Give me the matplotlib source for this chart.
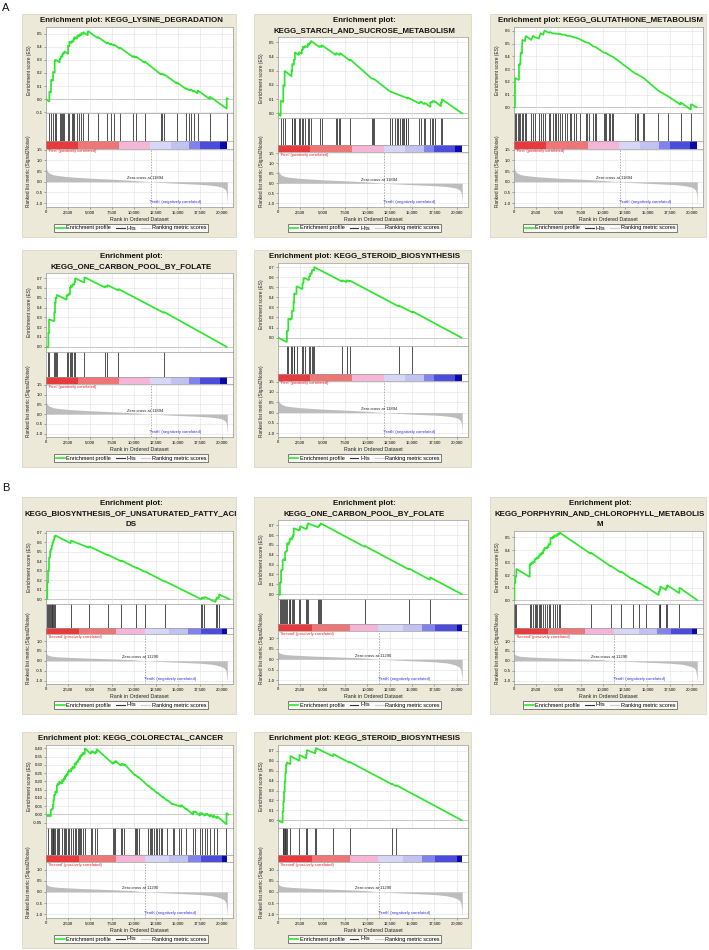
import matplotlib
matplotlib.use('Agg')
import matplotlib.pyplot as plt
from matplotlib.patches import Rectangle
from matplotlib.lines import Line2D
from matplotlib.ticker import FixedLocator, FuncFormatter

plt.rcParams['font.family'] = ['Liberation Sans', 'DejaVu Sans']

# ---------------- data ----------------
rank_ticks = [0, 2500, 5000, 7500, 10000, 12500, 15000, 17500, 20000]
rank_tick_labels = ["0", "2,500", "5,000", "7,500", "10,000", "12,500", "15,000", "17,500", "20,000"]

# ranked list metric (Signal2Noise), dataset A (First vs Tenth)
rankA_x = [0, 60, 150, 300, 500, 800, 1200, 1800, 2500, 3500, 5000, 6500, 8000, 9500, 11000, 11894,
           13000, 14500, 16000, 17500, 18500, 19300, 19900, 20200, 20400, 20500, 20560, 20600]
rankA_y = [0.78, 0.6, 0.5, 0.43, 0.38, 0.33, 0.3, 0.27, 0.24, 0.21, 0.17, 0.14, 0.11, 0.075, 0.03, 0.0,
           -0.03, -0.06, -0.09, -0.12, -0.15, -0.19, -0.24, -0.3, -0.38, -0.5, -0.75, -1.1]
# dataset B (Second vs Tenth)
rankB_x = [0, 100, 300, 700, 1500, 2500, 4000, 6000, 8000, 9750, 11290, 13600, 15500, 17500, 18800,
           19400, 20000, 20300, 20450, 20530, 20600]
rankB_y = [0.38, 0.32, 0.27, 0.23, 0.2, 0.18, 0.15, 0.12, 0.09, 0.06, 0.0, -0.045, -0.08, -0.12, -0.17,
           -0.22, -0.3, -0.38, -0.5, -0.75, -1.05]

zero_cross_A = 11894
zero_cross_B = 11290

cbarA_bounds = [0, 3600, 8300, 11800, 14200, 16300, 17500, 19800, 20600]
cbarB_bounds = [0, 3800, 8000, 11200, 14000, 16100, 17600, 20000, 20600]
cbar_colors = ['#e63a3c', '#ef7676', '#f5b5d6', '#d6d6f6', '#c2c2f2', '#8282ec', '#4b4bdc', '#0a0aa8']

# ---- A1 KEGG_LYSINE_DEGRADATION
A1_title = ["Enrichment plot: KEGG_LYSINE_DEGRADATION"]
A1_hits = [380, 570, 800, 990, 1140, 1560, 1670, 1860, 1940, 2090, 2510, 2660, 2930, 3120, 3230, 3540,
           3760, 3990, 4220, 4750, 5890, 6960, 7340, 7720, 8400, 9920, 10190, 11220, 13040, 13190,
           13420, 14830, 15930, 16270, 16460, 16770, 17220, 18630, 20530]
A1_es_x = [0, 380, 380, 570, 570, 800, 800, 990, 990, 1140, 1140, 1560, 1560, 1670, 1670, 1860, 1860,
           1940, 1940, 2090, 2090, 2510, 2510, 2660, 2660, 2930, 2930, 3120, 3120, 3230, 3230, 3540, 3540,
           3760, 3760, 3990, 3990, 4220, 4220, 4750, 4750, 5890, 5890, 6960, 6960, 7340, 7340, 7720, 7720,
           8400, 8400, 9920, 9920, 10190, 10190, 11220, 11220, 13040, 13040, 13190, 13190, 13420, 13420,
           14830, 14830, 15930, 15930, 16270, 16270, 16460, 16460, 16770, 16770, 17220, 17220, 18630,
           18630, 20530, 20530, 20650]
A1_es_y = [0.0, -0.018, 0.06, 0.05, 0.15, 0.14, 0.21, 0.20, 0.30, 0.293, 0.30, 0.28, 0.31, 0.305, 0.33,
           0.32, 0.345, 0.34, 0.355, 0.348, 0.365, 0.345, 0.41, 0.40, 0.44, 0.427, 0.445, 0.436, 0.46,
           0.455, 0.475, 0.46, 0.485, 0.475, 0.495, 0.484, 0.505, 0.494, 0.512, 0.486, 0.52, 0.465,
           0.475, 0.423, 0.433, 0.415, 0.425, 0.407, 0.417, 0.384, 0.394, 0.32, 0.33, 0.317, 0.327,
           0.277, 0.287, 0.19, 0.195, 0.188, 0.195, 0.184, 0.19, 0.122, 0.13, 0.077, 0.085, 0.069, 0.075,
           0.066, 0.072, 0.057, 0.065, 0.045, 0.068, 0.0, 0.02, -0.072, 0.01, 0.005]

# ---- A2 KEGG_STARCH_AND_SUCROSE_METABOLISM
A2_title = ["Enrichment plot:", "KEGG_STARCH_AND_SUCROSE_METABOLISM"]
A2_hits = [300, 590, 740, 1520, 1590, 1780, 1890, 2330, 2440, 2670, 2780, 3000, 3330, 3520, 3670, 4670,
           4890, 6480, 6630, 6780, 6930, 8070, 10480, 10630, 10780, 12520, 12780, 13070, 13260, 13410,
           13670, 13820, 13960, 14110, 14260, 14370, 14560, 15820, 15960, 16330, 16410, 17040, 17220,
           17370, 17560, 18220, 18330]
A2_es_x = [0, 300, 300, 590, 590, 740, 740, 1520, 1520, 1590, 1590, 1780, 1780, 1890, 1890, 2330, 2330,
           2670, 2670, 2780, 2780, 3000, 3000, 3330, 3330, 3520, 3520, 3670, 3670, 4670, 4670, 4890, 4890,
           6480, 6480, 6930, 6930, 8070, 8070, 10480, 10780, 12520, 14560, 14560, 15820, 15820, 15960,
           15960, 16330, 16330, 16410, 16410, 17040, 17040, 17220, 17220, 17370, 17370, 17560, 17560,
           18220, 18220, 18330, 18330, 20600]
A2_es_y = [0.0, -0.02, 0.09, 0.08, 0.2, 0.19, 0.30, 0.26, 0.30, 0.30, 0.35, 0.34, 0.38, 0.375, 0.43,
           0.41, 0.43, 0.42, 0.45, 0.445, 0.47, 0.46, 0.475, 0.465, 0.49, 0.48, 0.50, 0.495, 0.51, 0.465,
           0.475, 0.465, 0.48, 0.41, 0.425, 0.41, 0.425, 0.37, 0.38, 0.245, 0.24, 0.155, 0.105, 0.11,
           0.07, 0.08, 0.075, 0.085, 0.065, 0.07, 0.068, 0.075, 0.045, 0.08, 0.075, 0.085, 0.08, 0.09,
           0.08, 0.085, 0.05, 0.08, 0.075, 0.10, 0.0]

# ---- A3 KEGG_GLUTATHIONE_METABOLISM
A3_title = ["Enrichment plot: KEGG_GLUTATHIONE_METABOLISM"]
A3_hits = [110, 260, 410, 560, 710, 860, 1010, 1230, 1380, 1940, 2160, 2350, 2800, 2980, 3280, 3430,
           3920, 4100, 4330, 4590, 4740, 4960, 5220, 5450, 5710, 5970, 6270, 6420, 6720, 7010, 7390,
           8060, 8210, 8390, 8880, 9100, 9250, 10070, 10220, 10370, 10670, 10820, 11010, 11160, 13620,
           13800, 13990, 14480, 14660, 16230, 17350, 18730, 19890]
A3_es_x = [0, 110, 110, 370, 560, 560, 710, 750, 900, 930, 1230, 1310, 1940, 2160, 2350, 2800, 2980,
           3280, 3430, 3920, 4100, 4330, 4590, 4960, 5220, 5450, 5710, 5970, 6270, 6720, 7010, 7390,
           8060, 8390, 8880, 9250, 10070, 10370, 10820, 11160, 13620, 13990, 14660, 16230, 17350, 18730,
           18730, 19890, 19890, 20550]
A3_es_y = [0.0, 0.0, 0.23, 0.22, 0.215, 0.34, 0.33, 0.43, 0.42, 0.53, 0.52, 0.56, 0.53, 0.56, 0.55,
           0.54, 0.58, 0.57, 0.60, 0.585, 0.59, 0.58, 0.58, 0.575, 0.575, 0.57, 0.57, 0.56, 0.56, 0.55,
           0.545, 0.535, 0.51, 0.505, 0.48, 0.47, 0.43, 0.425, 0.405, 0.395, 0.265, 0.255, 0.225, 0.13,
           0.085, 0.02, 0.04, -0.02, 0.025, 0.0]

# ---- A4 KEGG_ONE_CARBON_POOL_BY_FOLATE
A4_title = ["Enrichment plot:", "KEGG_ONE_CARBON_POOL_BY_FOLATE"]
A4_hits = [265, 340, 950, 1020, 1100, 1210, 2350, 2540, 2730, 2840, 3000, 3220, 3300, 4360, 6710, 6970,
           8220, 13410]
A4_es_x = [0, 265, 265, 340, 340, 950, 950, 1020, 1020, 1100, 1100, 1210, 1210, 2350, 2350, 2540, 2540,
           2730, 2730, 2840, 2840, 3000, 3000, 3220, 3220, 3300, 3300, 4360, 4360, 6710, 6710, 6970,
           6970, 8220, 8220, 13410, 13410, 20500]
A4_es_y = [0.0, -0.01, 0.14, 0.14, 0.28, 0.26, 0.35, 0.35, 0.45, 0.45, 0.50, 0.50, 0.53, 0.48, 0.53,
           0.52, 0.54, 0.53, 0.61, 0.60, 0.62, 0.615, 0.64, 0.63, 0.66, 0.655, 0.70, 0.655, 0.71, 0.605,
           0.62, 0.61, 0.63, 0.575, 0.59, 0.345, 0.355, 0.0]

# ---- A5 KEGG_STEROID_BIOSYNTHESIS
A5_title = ["Enrichment plot: KEGG_STEROID_BIOSYNTHESIS"]
A5_hits = [1000, 1150, 1440, 1560, 1740, 1810, 2070, 2740, 2850, 3000, 3480, 3590, 3780, 3890, 4040,
           7190, 7670, 8040, 13480, 15040]
A5_es_x = [0, 1000, 1000, 1150, 1150, 1440, 1440, 1560, 1560, 1740, 1740, 1810, 1810, 2070, 2070, 2740,
           2740, 2850, 2850, 3000, 3000, 3480, 3480, 3590, 3590, 3780, 3780, 3890, 3890, 4040, 4040,
           7190, 7190, 7670, 7670, 8040, 8040, 13480, 13480, 15040, 15040, 20500]
A5_es_y = [0.0, -0.045, 0.07, 0.065, 0.19, 0.175, 0.19, 0.185, 0.27, 0.26, 0.35, 0.35, 0.44, 0.43, 0.51,
           0.48, 0.54, 0.535, 0.59, 0.585, 0.59, 0.57, 0.61, 0.605, 0.64, 0.63, 0.67, 0.665, 0.67, 0.665,
           0.70, 0.555, 0.57, 0.55, 0.57, 0.555, 0.565, 0.31, 0.32, 0.25, 0.26, 0.0]

# ---- B1 KEGG_BIOSYNTHESIS_OF_UNSATURATED_FATTY_ACIDS
B1_title = ["Enrichment plot:", "KEGG_BIOSYNTHESIS_OF_UNSATURATED_FATTY_ACI", "DS"]
B1_hits = [150, 230, 340, 460, 530, 650, 730, 840, 950, 1030, 2820, 4850, 7020, 8550, 10270, 11220,
           13510, 17630, 17750, 18010, 19280, 19390, 19660]
B1_es_x = [0, 150, 150, 230, 230, 340, 340, 460, 460, 530, 530, 650, 650, 730, 730, 840, 840, 950, 950,
           1030, 1030, 2820, 2820, 4850, 4850, 7020, 7020, 8550, 8550, 10270, 10270, 11220, 11220, 13510,
           13510, 17630, 17630, 17750, 17750, 18010, 18010, 19280, 19280, 19390, 19390, 19660, 19660,
           20850]
B1_es_y = [0.0, 0.0, 0.18, 0.175, 0.3, 0.3, 0.44, 0.435, 0.50, 0.5, 0.53, 0.525, 0.57, 0.565, 0.60,
           0.595, 0.63, 0.625, 0.66, 0.66, 0.675, 0.59, 0.62, 0.545, 0.56, 0.465, 0.47, 0.40, 0.41, 0.33,
           0.335, 0.29, 0.295, 0.185, 0.19, 0.0, 0.01, 0.005, 0.02, 0.01, 0.025, -0.03, 0.0, -0.005, 0.02,
           0.01, 0.05, 0.0]

# ---- B2 KEGG_ONE_CARBON_POOL_BY_FOLATE
B2_title = ["Enrichment plot:", "KEGG_ONE_CARBON_POOL_BY_FOLATE"]
B2_hits = [220, 340, 410, 520, 640, 790, 900, 1010, 1200, 1310, 1390, 1540, 1690, 1760, 2400, 2470,
           3150, 3260, 3330, 4460, 4570, 4680, 4760, 9700, 14640, 17000]
B2_es_x = [0, 220, 220, 340, 340, 410, 410, 520, 520, 640, 640, 790, 790, 900, 900, 1010, 1010, 1200,
           1200, 1310, 1310, 1390, 1390, 1540, 1540, 1690, 1690, 1760, 1760, 2400, 2400, 2470, 2470, 3150,
           3150, 3260, 3260, 3330, 3330, 4460, 4460, 4570, 4570, 4680, 4680, 4760, 4760, 9700, 9700,
           14640, 14640, 17000, 17000, 20550]
B2_es_y = [0.0, -0.01, 0.12, 0.115, 0.24, 0.235, 0.25, 0.245, 0.35, 0.345, 0.36, 0.34, 0.43, 0.425,
           0.44, 0.435, 0.52, 0.50, 0.53, 0.525, 0.56, 0.555, 0.57, 0.55, 0.58, 0.575, 0.60, 0.60, 0.67,
           0.645, 0.66, 0.655, 0.69, 0.66, 0.67, 0.665, 0.70, 0.70, 0.72, 0.68, 0.69, 0.685, 0.70, 0.695,
           0.71, 0.705, 0.72, 0.48, 0.49, 0.25, 0.26, 0.145, 0.17, 0.0]

# ---- B3 KEGG_PORPHYRIN_AND_CHLOROPHYLL_METABOLISM
B3_title = ["Enrichment plot:", "KEGG_PORPHYRIN_AND_CHLOROPHYLL_METABOLIS", "M"]
B3_hits = [40, 150, 260, 1770, 1920, 2150, 2330, 2450, 2600, 2790, 2900, 3090, 3280, 3430, 3730, 3880,
           4100, 4370, 4560, 4860, 5050, 5120, 8620, 10880, 12010, 13330, 14080, 14800, 16270, 16380,
           16450, 17090, 17210, 18600]
B3_es_x = [0, 40, 40, 150, 150, 260, 260, 1770, 1770, 1920, 1920, 2150, 2150, 2330, 2330, 2450, 2450,
           2600, 2600, 2790, 2790, 2900, 2900, 3090, 3090, 3280, 3280, 3430, 3430, 3730, 3730, 3880, 3880,
           4100, 4100, 4370, 4370, 4560, 4560, 4860, 4860, 5050, 5050, 5120, 5120, 8620, 8620, 10880,
           10880, 12010, 12010, 13330, 13330, 14080, 14080, 14800, 14800, 16270, 16270, 16380, 16380,
           16450, 16450, 17090, 17090, 17210, 17210, 18600, 18600, 20600]
B3_es_y = [0.0, 0.0, 0.14, 0.135, 0.19, 0.185, 0.25, 0.185, 0.29, 0.28, 0.30, 0.29, 0.31, 0.30, 0.33,
           0.325, 0.335, 0.33, 0.345, 0.335, 0.355, 0.35, 0.37, 0.36, 0.38, 0.37, 0.40, 0.395, 0.42, 0.41,
           0.43, 0.42, 0.45, 0.44, 0.50, 0.49, 0.51, 0.50, 0.52, 0.51, 0.53, 0.52, 0.535, 0.53, 0.54,
           0.37, 0.38, 0.27, 0.275, 0.22, 0.23, 0.165, 0.17, 0.135, 0.14, 0.105, 0.11, 0.04, 0.07, 0.065,
           0.09, 0.085, 0.11, 0.08, 0.10, 0.095, 0.12, 0.055, 0.10, 0.0]

# ---- B4 KEGG_COLORECTAL_CANCER
B4_title = ["Enrichment plot: KEGG_COLORECTAL_CANCER"]
B4_hits = [271, 542, 658, 774, 851, 929, 1045, 1238, 1355, 1509, 1819, 2012, 2167, 2322, 2477, 2593,
           2864, 3019, 3251, 3444, 3599, 3715, 3870, 4025, 4180, 4412, 5108, 5225, 5612, 5766, 7624, 7740,
           7895, 8514, 8669, 8901, 10139, 10217, 10333, 10526, 11610, 11765, 11881, 12074, 12307, 12461,
           12655, 12848, 13042, 13235, 13777, 14396, 14551, 15170, 15364, 15944, 16718, 16912, 17492,
           17686, 18073, 18266, 18653, 19040, 19427, 20510]
B4_es_x = [0, 271, 271, 542, 542, 658, 658, 774, 774, 851, 851, 929, 929, 1045, 1045, 1238, 1238, 1355,
           1355, 1509, 1509, 1819, 1819, 2012, 2012, 2167, 2167, 2322, 2322, 2477, 2477, 2593, 2593, 2864,
           2864, 3019, 3019, 3251, 3251, 3444, 3444, 3599, 3599, 3715, 3715, 3870, 3870, 4025, 4025, 4180,
           4180, 4412, 4412, 5108, 5108, 5225, 5225, 5612, 5612, 5766, 5766, 7624, 7624, 7740, 7740, 7895,
           7895, 8514, 8514, 8669, 8669, 8901, 8901, 10139, 10139, 10526, 10526, 11610, 11610, 12074,
           12074, 12655, 12655, 13235, 13235, 13777, 13777, 14396, 14396, 15170, 15170, 15364, 15364,
           15944, 15944, 16718, 16718, 16912, 16912, 17492, 17492, 17686, 17686, 18073, 18073, 18266,
           18266, 18653, 18653, 19040, 19040, 19427, 19427, 20510, 20510, 20700]
B4_es_y = [0.0, -0.013, 0.0, -0.013, 0.03, 0.025, 0.035, 0.03, 0.06, 0.056, 0.09, 0.086, 0.12, 0.115,
           0.14, 0.13, 0.18, 0.175, 0.19, 0.18, 0.20, 0.185, 0.21, 0.20, 0.22, 0.213, 0.235, 0.228, 0.245,
           0.237, 0.26, 0.254, 0.27, 0.257, 0.28, 0.273, 0.29, 0.279, 0.31, 0.30, 0.32, 0.313, 0.33, 0.325,
           0.34, 0.333, 0.355, 0.348, 0.365, 0.358, 0.375, 0.364, 0.40, 0.366, 0.38, 0.375, 0.385, 0.366,
           0.38, 0.373, 0.395, 0.305, 0.315, 0.31, 0.32, 0.313, 0.325, 0.295, 0.305, 0.298, 0.308, 0.297,
           0.305, 0.235, 0.24, 0.222, 0.226, 0.172, 0.176, 0.152, 0.156, 0.128, 0.132, 0.105, 0.109, 0.083,
           0.087, 0.06, 0.063, 0.05, 0.055, 0.046, 0.058, 0.03, 0.035, -0.002, 0.02, 0.011, 0.02, -0.008,
           0.01, 0.0, 0.01, -0.009, 0.005, -0.004, 0.005, -0.014, 0.0, -0.019, -0.005, -0.024, -0.01,
           -0.06, 0.01, 0.0]

# ---- B5 KEGG_STEROID_BIOSYNTHESIS
B5_title = ["Enrichment plot: KEGG_STEROID_BIOSYNTHESIS"]
B5_hits = [520, 600, 670, 750, 820, 900, 970, 1390, 2400, 3150, 3220, 4160, 4230, 6180, 8010, 12700,
           13220]
B5_es_x = [0, 520, 520, 600, 600, 670, 670, 750, 750, 820, 820, 900, 900, 970, 970, 1390, 1390, 2400,
           2400, 3150, 3150, 3220, 3220, 4160, 4160, 4230, 4230, 6180, 6180, 8010, 8010, 12700, 12700,
           13220, 13220, 20550]
B5_es_y = [0.0, -0.025, 0.09, 0.085, 0.19, 0.185, 0.29, 0.285, 0.39, 0.385, 0.48, 0.475, 0.56, 0.555,
           0.585, 0.565, 0.65, 0.60, 0.66, 0.625, 0.67, 0.665, 0.71, 0.675, 0.70, 0.70, 0.73, 0.645, 0.67,
           0.58, 0.59, 0.365, 0.37, 0.345, 0.355, 0.0]

# ---------------- drawing ----------------
W, H = 709, 950
fig = plt.figure(figsize=(W / 100, H / 100), dpi=100)
fig.patch.set_facecolor('white')

BEIGE = '#ECE9D8'
SPINE = '#9a9a9a'
GRID = '#e2e2e2'
GREEN = '#2fe62f'
XMAX = 21250


def fx(px):
    return px / W


def fy(py):
    return 1 - py / H


def style_axes(ax):
    for s in ax.spines.values():
        s.set_color(SPINE)
        s.set_linewidth(0.5)
    ax.set_xlim(0, XMAX)
    ax.tick_params(length=1.5, width=0.4, color='#666666', labelsize=3.0, pad=1)


def draw_panel(box, title_lines, es_x, es_y, es_ylim, es_ticks, es_dec, hits,
               rk_x, rk_y, rk_ylim, rk_ticks, zero_cross, pos_name, cb_bounds):
    x0, y0, x1, y1 = box
    fig.patches.append(Rectangle((fx(x0), fy(y1)), (x1 - x0) / W, (y1 - y0) / H,
                                 transform=fig.transFigure, facecolor=BEIGE,
                                 edgecolor='#d6d2bf', lw=0.5, zorder=-5))
    cx = (x0 + x1) / 2 + 2
    n = len(title_lines)
    for i, t in enumerate(title_lines):
        fig.text(fx(cx), fy(y0 + 6.5 + 10.3 * i), t, ha='center', va='center',
                 fontsize=5.7, fontweight='bold', color='#111111')
    top = y0 + 13 + 10.3 * (n - 1)
    bot = y1 - 30
    hh = bot - top
    es_h = 0.478 * hh
    hit_h = 0.158 * hh
    cb_h = 0.04 * hh
    rk_h = hh - es_h - hit_h - cb_h
    left = x0 + 24
    right = x1 - 3

    def add_ax(ytop, h):
        a = fig.add_axes([fx(left), fy(ytop + h), (right - left) / W, h / H])
        a.set_zorder(2)
        return a

    ax_es = add_ax(top, es_h)
    ax_hit = add_ax(top + es_h, hit_h)
    ax_cb = add_ax(top + es_h + hit_h, cb_h)
    ax_rk = add_ax(top + es_h + hit_h + cb_h, rk_h)

    # ES panel
    style_axes(ax_es)
    ax_es.set_ylim(*es_ylim)
    ax_es.xaxis.set_major_locator(FixedLocator(rank_ticks))
    ax_es.set_xticklabels([])
    ax_es.tick_params(axis='x', length=0)
    ax_es.yaxis.set_major_locator(FixedLocator(es_ticks))
    ax_es.yaxis.set_major_formatter(FuncFormatter(lambda v, p, d=es_dec: f"{v:.{d}f}"))
    ax_es.grid(True, color=GRID, lw=0.4)
    ax_es.axhline(0, color='#9a9a9a', lw=0.6, zorder=1)
    ax_es.plot(es_x, es_y, color=GREEN, lw=1.25, zorder=3, solid_joinstyle='miter')

    # hits panel
    style_axes(ax_hit)
    ax_hit.set_ylim(0, 1)
    ax_hit.set_xticks([])
    ax_hit.set_yticks([])
    ax_hit.vlines(hits, 0, 1, color='#333333', lw=0.6)

    # colour bar
    style_axes(ax_cb)
    ax_cb.set_xticks([])
    ax_cb.set_yticks([])
    for i, c in enumerate(cbar_colors):
        ax_cb.axvspan(cb_bounds[i], cb_bounds[i + 1], color=c, lw=0)

    # ranked list panel
    style_axes(ax_rk)
    ax_rk.set_ylim(*rk_ylim)
    ax_rk.xaxis.set_major_locator(FixedLocator(rank_ticks))
    ax_rk.set_xticklabels(rank_tick_labels)
    ax_rk.yaxis.set_major_locator(FixedLocator(rk_ticks))
    ax_rk.yaxis.set_major_formatter(FuncFormatter(lambda v, p: f"{v:.1f}"))
    ax_rk.grid(True, color=GRID, lw=0.4)
    ax_rk.fill_between(rk_x, 0, rk_y, color='#bdbdbd', lw=0, zorder=2)
    ax_rk.axvline(zero_cross, color='#8a8a8a', lw=0.5, ls=(0, (2, 2)), zorder=3)
    ax_rk.text(zero_cross - 600, 0.08, f"Zero cross at {zero_cross}", ha='center', va='bottom',
               fontsize=3.0, color='#222222', zorder=4)
    ax_rk.text(250, rk_ylim[1] - 0.03, f"'{pos_name}' (positively correlated)", ha='left', va='top',
               fontsize=2.9, color='#e02020', zorder=4)
    ax_rk.text(zero_cross + 2800, -0.93, "'Tenth' (negatively correlated)", ha='center', va='center',
               fontsize=2.9, color='#2a2ae0', zorder=4)
    ax_rk.set_xlabel("Rank in Ordered Dataset", fontsize=3.8, labelpad=1.5, color='#222222')

    # y labels
    fig.text(fx(left - 17), fy(top + es_h / 2), "Enrichment score (ES)", rotation=90,
             ha='center', va='center', fontsize=3.5, color='#222222')
    fig.text(fx(left - 17), fy(bot), "Ranked list metric (Signal2Noise)", rotation=90,
             ha='center', va='bottom', fontsize=3.4, color='#222222')

    # legend
    handles = [Line2D([], [], color=GREEN, lw=1.2), Line2D([], [], color='#333333', lw=0.8),
               Line2D([], [], color='#cfcfcf', lw=0.8)]
    labels = ["Enrichment profile", "Hits", "Ranking metric scores"]
    leg = fig.legend(handles, labels, loc='center', bbox_to_anchor=(fx(cx), fy(y1 - 9)),
                     ncol=3, fontsize=4.0, frameon=True, fancybox=False, edgecolor='#222222',
                     handlelength=1.6, handletextpad=0.3, columnspacing=0.9, borderpad=0.25,
                     borderaxespad=0)
    leg.get_frame().set_linewidth(0.5)


A_rk_lim = (-1.18, 1.55)
B_rk_lim = (-1.17, 1.34)
A_rk_ticks = [1.5, 1.0, 0.5, 0.0, -0.5, -1.0]
B_rk_ticks = [1.0, 0.5, 0.0, -0.5, -1.0]

draw_panel((22, 14, 236, 237), A1_title, A1_es_x, A1_es_y, (-0.105, 0.55),
           [-0.1, 0.0, 0.1, 0.2, 0.3, 0.4, 0.5], 1, A1_hits,
           rankA_x, rankA_y, A_rk_lim, A_rk_ticks, zero_cross_A, "First", cbarA_bounds)
draw_panel((254, 14, 471, 237), A2_title, A2_es_x, A2_es_y, (-0.035, 0.535),
           [0.0, 0.1, 0.2, 0.3, 0.4, 0.5], 1, A2_hits,
           rankA_x, rankA_y, A_rk_lim, A_rk_ticks, zero_cross_A, "First", cbarA_bounds)
draw_panel((490, 14, 706, 237), A3_title, A3_es_x, A3_es_y, (-0.045, 0.63),
           [0.0, 0.1, 0.2, 0.3, 0.4, 0.5, 0.6], 1, A3_hits,
           rankA_x, rankA_y, A_rk_lim, A_rk_ticks, zero_cross_A, "First", cbarA_bounds)
draw_panel((22, 250, 236, 467), A4_title, A4_es_x, A4_es_y, (-0.05, 0.75),
           [0.0, 0.1, 0.2, 0.3, 0.4, 0.5, 0.6, 0.7], 1, A4_hits,
           rankA_x, rankA_y, A_rk_lim, A_rk_ticks, zero_cross_A, "First", cbarA_bounds)
draw_panel((254, 250, 471, 467), A5_title, A5_es_x, A5_es_y, (-0.085, 0.74),
           [0.0, 0.1, 0.2, 0.3, 0.4, 0.5, 0.6, 0.7], 1, A5_hits,
           rankA_x, rankA_y, A_rk_lim, A_rk_ticks, zero_cross_A, "First", cbarA_bounds)
draw_panel((22, 497, 236, 714), B1_title, B1_es_x, B1_es_y, (-0.05, 0.725),
           [0.0, 0.1, 0.2, 0.3, 0.4, 0.5, 0.6, 0.7], 1, B1_hits,
           rankB_x, rankB_y, B_rk_lim, B_rk_ticks, zero_cross_B, "Second", cbarB_bounds)
draw_panel((254, 497, 471, 714), B2_title, B2_es_x, B2_es_y, (-0.045, 0.75),
           [0.0, 0.1, 0.2, 0.3, 0.4, 0.5, 0.6, 0.7], 1, B2_hits,
           rankB_x, rankB_y, B_rk_lim, B_rk_ticks, zero_cross_B, "Second", cbarB_bounds)
draw_panel((490, 497, 706, 714), B3_title, B3_es_x, B3_es_y, (-0.03, 0.555),
           [0.0, 0.1, 0.2, 0.3, 0.4, 0.5], 1, B3_hits,
           rankB_x, rankB_y, B_rk_lim, B_rk_ticks, zero_cross_B, "Second", cbarB_bounds)
draw_panel((22, 732, 236, 948), B4_title, B4_es_x, B4_es_y, (-0.08, 0.42),
           [-0.05, 0.0, 0.05, 0.1, 0.15, 0.2, 0.25, 0.3, 0.35, 0.4], 2, B4_hits,
           rankB_x, rankB_y, B_rk_lim, B_rk_ticks, zero_cross_B, "Second", cbarB_bounds)
draw_panel((254, 732, 471, 948), B5_title, B5_es_x, B5_es_y, (-0.075, 0.76),
           [0.0, 0.1, 0.2, 0.3, 0.4, 0.5, 0.6, 0.7], 1, B5_hits,
           rankB_x, rankB_y, B_rk_lim, B_rk_ticks, zero_cross_B, "Second", cbarB_bounds)

fig.text(fx(2), fy(8), "A", ha='left', va='center', fontsize=8, color='#111111')
fig.text(fx(2), fy(488), "B", ha='left', va='center', fontsize=8, color='#111111')

fig.savefig('out.png', dpi=100, facecolor='white')
